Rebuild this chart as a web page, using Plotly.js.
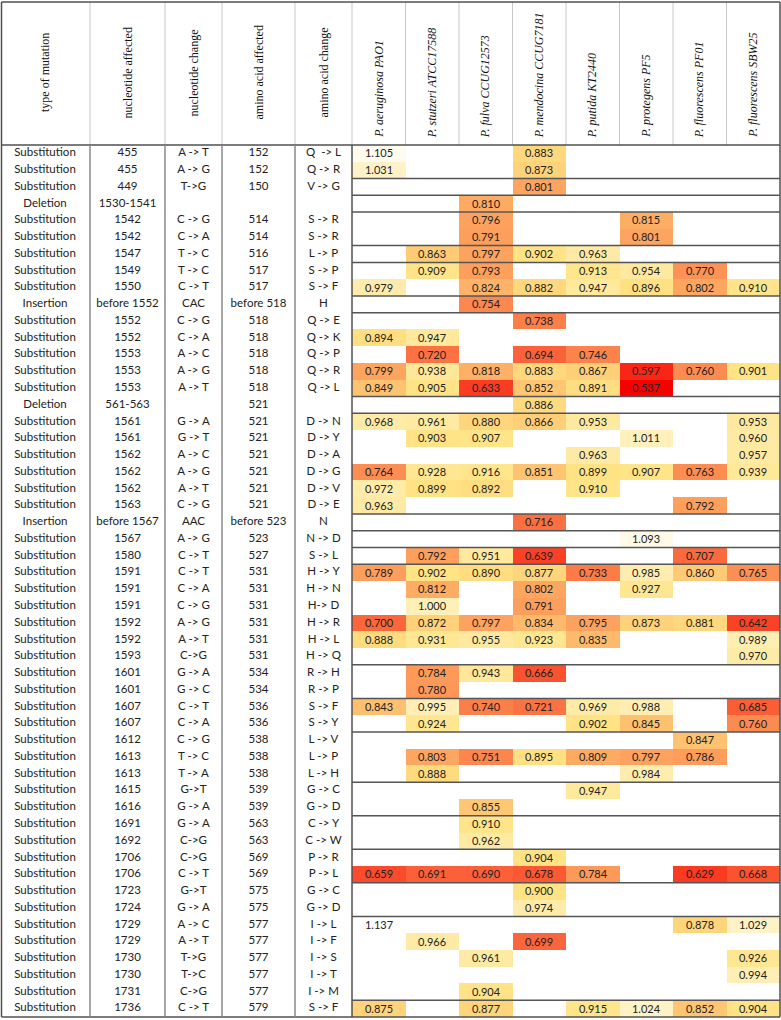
<!DOCTYPE html>
<html>
<head>
<meta charset="utf-8">
<script src="https://cdn.plot.ly/plotly-3.0.1.min.js"></script>
<style>body{margin:0;background:#fff}#chart{width:781px;height:1020px}</style>
</head>
<body>
<div id="chart"></div>
<script>
var _ = null;

var strains = ['P. aeruginosa PAO1', 'P. stutzeri ATCC17588', 'P. fulva CCUG12573', 'P. mendocina CCUG7181',
  'P. putida KT2440', 'P. protegens PF5', 'P. fluorescens PF01', 'P. fluorescens SBW25'];

var infoHeaders = ['type of mutation', 'nucleotide affected', 'nucleotide change', 'amino acid affected', 'amino acid change'];

var mutationType = ['Substitution','Substitution','Substitution','Deletion','Substitution','Substitution','Substitution','Substitution','Substitution','Insertion',
  'Substitution','Substitution','Substitution','Substitution','Substitution','Deletion','Substitution','Substitution','Substitution','Substitution',
  'Substitution','Substitution','Insertion','Substitution','Substitution','Substitution','Substitution','Substitution','Substitution','Substitution',
  'Substitution','Substitution','Substitution','Substitution','Substitution','Substitution','Substitution','Substitution','Substitution','Substitution',
  'Substitution','Substitution','Substitution','Substitution','Substitution','Substitution','Substitution','Substitution','Substitution','Substitution',
  'Substitution','Substitution'];

var nucAffected = ['455','455','449','1530-1541','1542','1542','1547','1549','1550','before 1552',
  '1552','1552','1553','1553','1553','561-563','1561','1561','1562','1562',
  '1562','1563','before 1567','1567','1580','1591','1591','1591','1592','1592',
  '1593','1601','1601','1607','1607','1612','1613','1613','1615','1616',
  '1691','1692','1706','1706','1723','1724','1729','1729','1730','1730',
  '1731','1736'];

var nucChange = ['A -> T','A -> G','T->G','','C -> G','C -> A','T -> C','T -> C','C -> T','CAC',
  'C -> G','C -> A','A -> C','A -> G','A -> T','','G -> A','G -> T','A -> C','A -> G',
  'A -> T','C -> G','AAC','A -> G','C -> T','C -> T','C -> A','C -> G','A -> G','A -> T',
  'C->G','G -> A','G -> C','C -> T','C -> A','C -> G','T -> C','T -> A','G->T','G -> A',
  'G -> A','C->G','C->G','C -> T','G->T','G -> A','A -> C','A -> T','T->G','T->C',
  'C->G','C -> T'];

var aaAffected = ['152','152','150','','514','514','516','517','517','before 518',
  '518','518','518','518','518','521','521','521','521','521',
  '521','521','before 523','523','527','531','531','531','531','531',
  '531','534','534','536','536','538','538','538','539','539',
  '563','563','569','569','575','575','577','577','577','577',
  '577','579'];

var aaChange = ['Q  -> L','Q -> R','V -> G','','S -> R','S -> R','L -> P','S -> P','S -> F','H',
  'Q -> E','Q -> K','Q -> P','Q -> R','Q -> L','','D -> N','D -> Y','D -> A','D -> G',
  'D -> V','D -> E','N','N -> D','S -> L','H -> Y','H -> N','H-> D','H -> R','H -> L',
  'H -> Q','R -> H','R -> P','S -> F','S -> Y','L -> V','L -> P','L -> H','G -> C','G -> D',
  'C -> Y','C -> W','P -> R','P -> L','G -> C','G -> D','I -> L','I -> F','I -> S','I -> T',
  'I -> M','S -> F'];

// relative fitness per strain, one value per mutation row
var pao1 = [1.105,1.031,_,_,_,_,_,_,0.979,_,
  _,0.894,_,0.799,0.849,_,0.968,_,_,0.764,
  0.972,0.963,_,_,_,0.789,_,_,0.700,0.888,
  _,_,_,0.843,_,_,_,_,_,_,
  _,_,_,0.659,_,_,1.137,_,_,_,
  _,0.875];
var stutzeri = [_,_,_,_,_,_,0.863,0.909,_,_,
  _,0.947,0.720,0.938,0.905,_,0.961,0.903,_,0.928,
  0.899,_,_,_,0.792,0.902,0.812,1.000,0.872,0.931,
  _,0.784,0.780,0.995,0.924,_,0.803,0.888,_,_,
  _,_,_,0.691,_,_,_,0.966,_,_,
  _,_];
var fulva = [_,_,_,0.810,0.796,0.791,0.797,0.793,0.824,0.754,
  _,_,_,0.818,0.633,_,0.880,0.907,_,0.916,
  0.892,_,_,_,0.951,0.890,_,_,0.797,0.955,
  _,0.943,_,0.740,_,_,0.751,_,_,0.855,
  0.910,0.962,_,0.690,_,_,_,_,0.961,_,
  0.904,0.877];
var mendocina = [0.883,0.873,0.801,_,_,_,0.902,_,0.882,_,
  0.738,_,0.694,0.883,0.852,0.886,0.866,_,_,0.851,
  _,_,0.716,_,0.639,0.877,0.802,0.791,0.834,0.923,
  _,0.666,_,0.721,_,_,0.895,_,_,_,
  _,_,0.904,0.678,0.900,0.974,_,0.699,_,_,
  _,_];
var putida = [_,_,_,_,_,_,0.963,0.913,0.947,_,
  _,_,0.746,0.867,0.891,_,0.953,_,0.963,0.899,
  0.910,_,_,_,_,0.733,_,_,0.795,0.835,
  _,_,_,0.969,0.902,_,0.809,_,0.947,_,
  _,_,_,0.784,_,_,_,_,_,_,
  _,0.915];
var protegens = [_,_,_,_,0.815,0.801,_,0.954,0.896,_,
  _,_,_,0.597,0.537,_,_,1.011,_,0.907,
  _,_,_,1.093,_,0.985,0.927,_,0.873,_,
  _,_,_,0.988,0.845,_,0.797,0.984,_,_,
  _,_,_,_,_,_,_,_,_,_,
  _,1.024];
var pf01 = [_,_,_,_,_,_,_,0.770,0.802,_,
  _,_,_,0.760,_,_,_,_,_,0.763,
  _,0.792,_,_,0.707,0.860,_,_,0.881,_,
  _,_,_,_,_,0.847,0.786,_,_,_,
  _,_,_,0.629,_,_,0.878,_,_,_,
  _,0.852];
var sbw25 = [_,_,_,_,_,_,_,_,0.910,_,
  _,_,_,0.901,_,_,0.953,0.960,0.957,0.939,
  _,_,_,_,_,0.765,_,_,0.642,0.989,
  0.970,_,_,0.685,0.760,_,_,_,_,_,
  _,_,_,0.668,_,_,1.029,_,0.926,0.994,
  _,0.904];

var columns = [pao1, stutzeri, fulva, mendocina, putida, protegens, pf01, sbw25];
var infoColumns = [mutationType, nucAffected, nucChange, aaAffected, aaChange];

// page geometry (px)
var W = 781, H = 1020;
var headTop = 2, headBottom = 145, bodyBottom = 1017, dataLeft = 352, right = 780;
var infoEdges = [0, 90, 165, 222, 295, 352];
var rowH = (bodyBottom - headBottom) / mutationType.length;

var rowIdx = mutationType.map(function (d, i) { return i; });
var z = rowIdx.map(function (i) { return columns.map(function (c) { return c[i]; }); });
var txt = z.map(function (r) { return r.map(function (v) { return v === null ? '' : v.toFixed(3); }); });

var traces = [{
  type: 'heatmap',
  x: strains,
  y: rowIdx,
  z: z,
  text: txt,
  texttemplate: '%{text}',
  textfont: {family: 'Lato', size: 11, color: '#222'},
  zmin: 0.537, zmax: 1.137,
  colorscale: [[0, '#F80000'], [0.605, '#FFE384'], [1, '#FFFFFF']],
  showscale: false,
  hoverinfo: 'skip'
}];

infoColumns.forEach(function (col, k) {
  traces.push({
    type: 'scatter',
    mode: 'text',
    xaxis: 'x2',
    x: rowIdx.map(function () { return (infoEdges[k] + infoEdges[k + 1]) / 2; }),
    y: rowIdx,
    text: col,
    textposition: 'middle center',
    textfont: {family: 'Lato', size: 11.5, color: '#222'},
    hoverinfo: 'skip',
    showlegend: false
  });
});

function px(v) { return v / W; }
function py(v) { return 1 - v / H; }

var shapes = [];
function line(x0, y0, x1, y1, color, w) {
  shapes.push({type: 'line', xref: 'paper', yref: 'paper', x0: px(x0), y0: py(y0), x1: px(x1), y1: py(y1),
    line: {color: color, width: w}});
}

// header grid
var allEdges = infoEdges.concat(strains.map(function (s, i) { return dataLeft + (i + 1) * (right - dataLeft) / strains.length; }));
allEdges.slice(1, -1).forEach(function (e) { line(e, headTop, e, headBottom, '#c8c8c8', 1); });
line(1.5, headTop, right, headTop, '#505050', 1.5);
line(1.5, headBottom, right, headBottom, '#505050', 1.5);
line(1.5, headTop, 1.5, bodyBottom, '#505050', 1.5);
line(right, headTop, right, bodyBottom, '#505050', 1.5);
line(1.5, bodyBottom, right, bodyBottom, '#505050', 1.5);
line(dataLeft, headBottom, dataLeft, bodyBottom, '#505050', 1.5);
infoEdges.slice(1, -1).forEach(function (e) { line(e, headBottom, e, bodyBottom, '#8a8a8a', 1.5); });

// separators between groups of mutations
rowIdx.slice(1).forEach(function (i) {
  if (aaAffected[i] !== aaAffected[i - 1] || mutationType[i] !== mutationType[i - 1]) {
    shapes.push({type: 'line', xref: 'paper', yref: 'y', x0: px(dataLeft), x1: px(right), y0: i - 0.5, y1: i - 0.5,
      line: {color: '#555', width: 1.5}});
  }
});

var annotations = [];
infoHeaders.forEach(function (h, k) {
  annotations.push({
    xref: 'x2', yref: 'paper', x: (infoEdges[k] + infoEdges[k + 1]) / 2, y: py(73),
    text: h, showarrow: false, textangle: -90, xanchor: 'center', yanchor: 'middle',
    font: {family: 'Liberation Serif', size: 12, color: '#111'}
  });
});
strains.forEach(function (s) {
  annotations.push({
    xref: 'x', yref: 'paper', x: s, y: py(140),
    text: '<i>' + s + '</i>', showarrow: false, textangle: -90, xanchor: 'center', yanchor: 'bottom',
    font: {family: 'Liberation Serif', size: 12, color: '#111'}
  });
});

var layout = {
  width: W, height: H,
  margin: {l: 0, r: 0, t: 0, b: 0, pad: 0},
  paper_bgcolor: '#fff', plot_bgcolor: '#fff',
  showlegend: false,
  xaxis: {domain: [px(dataLeft), px(right)], range: [-0.5, strains.length - 0.5], visible: false, fixedrange: true},
  xaxis2: {domain: [0, px(dataLeft)], range: [0, dataLeft], visible: false, anchor: 'y', fixedrange: true},
  yaxis: {range: [(H - headBottom) / rowH - 0.5, -headBottom / rowH - 0.5], visible: false, fixedrange: true},
  shapes: shapes,
  annotations: annotations
};

Plotly.newPlot('chart', traces, layout, {displayModeBar: false, staticPlot: true});
</script>
</body>
</html>
